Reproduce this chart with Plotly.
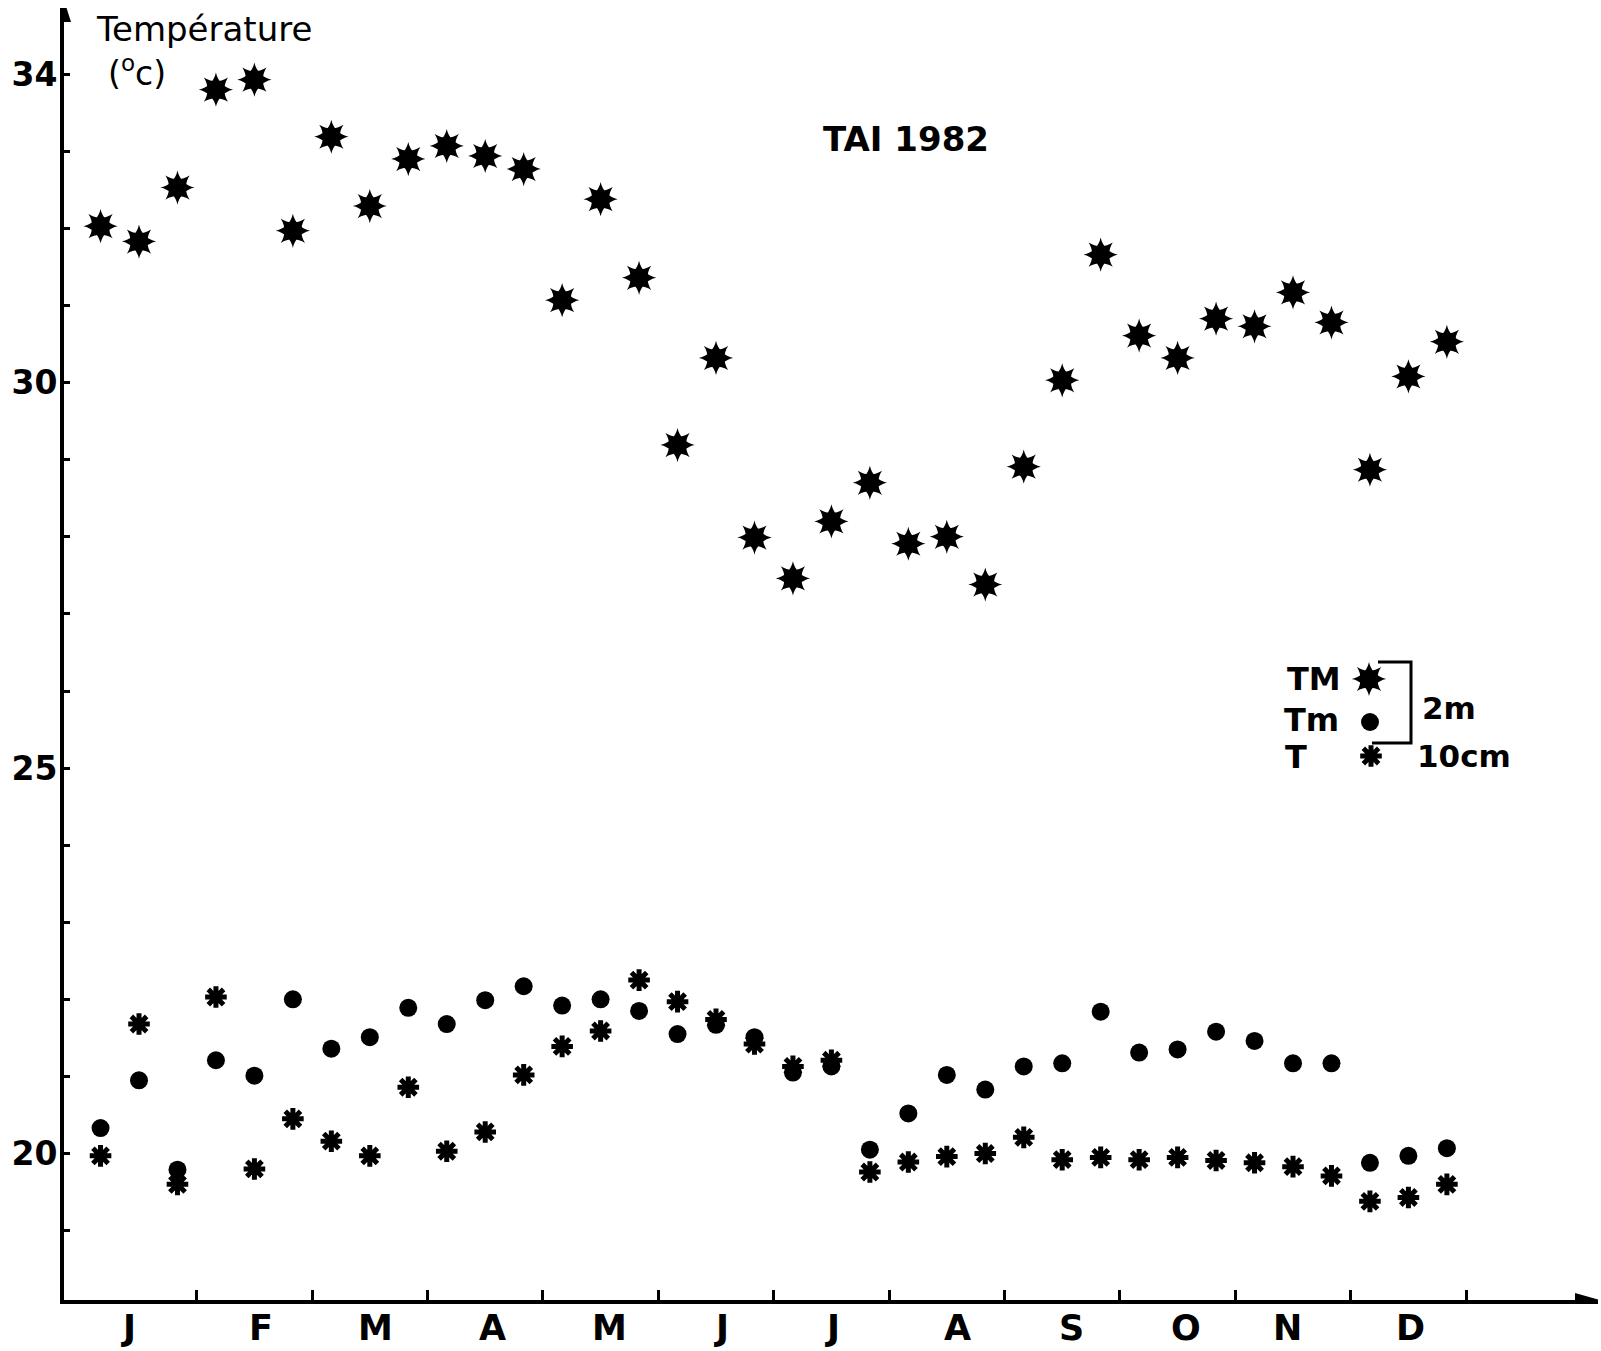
import plotly.graph_objects as go

# ---------------- data ----------------
months = ["J", "F", "M", "A", "M", "J", "J", "A", "S", "O", "N", "D"]
decade = list(range(1, 37))  # 10-day periods (3 per month)

# TM : maximum air temperature (2 m)
TM = [32.03, 31.83, 32.53, 33.80, 33.93, 31.97, 33.19, 32.29, 32.90, 33.07, 32.94, 32.77,
      31.07, 32.38, 31.36, 29.19, 30.32, 27.99, 27.46, 28.20, 28.70, 27.91, 28.00, 27.38,
      28.91, 30.03, 31.66, 30.61, 30.32, 30.83, 30.73, 31.17, 30.78, 28.87, 30.08, 30.53]
# Tm : minimum air temperature (2 m)
Tm = [20.33, 20.95, 19.79, 21.21, 21.01, 22.00, 21.36, 21.51, 21.89, 21.68, 21.99, 22.17,
      21.92, 22.00, 21.85, 21.55, 21.67, 21.51, 21.05, 21.13, 20.05, 20.52, 21.02, 20.83,
      21.13, 21.17, 21.84, 21.31, 21.35, 21.58, 21.46, 21.17, 21.17, 19.88, 19.97, 20.07]
# T : soil temperature (10 cm)
T10 = [19.97, 21.68, 19.60, 22.03, 19.80, 20.45, 20.16, 19.97, 20.86, 20.03, 20.28, 21.02,
       21.39, 21.59, 22.25, 21.97, 21.74, 21.42, 21.13, 21.21, 19.76, 19.89, 19.96, 20.00,
       20.21, 19.92, 19.95, 19.92, 19.95, 19.91, 19.88, 19.83, 19.71, 19.38, 19.43, 19.60]

y_ticks = list(range(19, 35))
y_labels = {20: "20", 25: "25", 30: "30", 34: "34"}
title_text = "TAI 1982"

# ---------------- layout geometry ----------------
W, H = 1601, 1351
L, R, T, B = 64, 3, 8, 51
PW, PH = W - L - R, H - T - B
FONT = "DejaVu Sans, Liberation Sans, Arial, sans-serif"

# hand-lettered month label positions (month units, as drawn on the original)
month_label_pos = [0.41, 1.56, 2.55, 3.56, 4.58, 5.55, 6.51, 7.59, 8.58, 9.57, 10.45, 11.52]

x = [(d - 0.5) / 3 for d in decade]  # month units

STAR = dict(size=22, color="black")
DOT = dict(symbol="circle", size=18, color="black", line=dict(width=0))
AST = dict(symbol="asterisk-open", size=18, color="black", line=dict(width=5, color="black"))
AST_C = dict(symbol="circle", size=10, color="black", line=dict(width=0))

fig = go.Figure()


def star_traces(xs, ys, **kw):
    for ang in (0, 45):
        fig.add_trace(go.Scatter(x=xs, y=ys, mode="markers", showlegend=False, hoverinfo="skip",
                                 marker=dict(symbol="star-square", angle=ang, line=dict(width=0), **STAR),
                                 **kw))
    fig.add_trace(go.Scatter(x=xs, y=ys, mode="markers", showlegend=False, hoverinfo="skip",
                             marker=dict(symbol="circle", size=15, color="black", line=dict(width=0)),
                             **kw))


def ast_traces(xs, ys, **kw):
    fig.add_trace(go.Scatter(x=xs, y=ys, mode="markers", showlegend=False, hoverinfo="skip",
                             marker=AST, **kw))
    fig.add_trace(go.Scatter(x=xs, y=ys, mode="markers", showlegend=False, hoverinfo="skip",
                             marker=AST_C, **kw))


# data marks
star_traces(x, TM)
fig.add_trace(go.Scatter(x=x, y=Tm, mode="markers", showlegend=False, marker=DOT))
ast_traces(x, T10)

# dummy trace for month-boundary tick axis
fig.add_trace(go.Scatter(x=[0], y=[25], xaxis="x2", mode="markers",
                         marker=dict(opacity=0), showlegend=False, hoverinfo="skip"))

# legend glyphs, placed on a pixel-coordinate overlay axis
leg = dict(xaxis="x3", yaxis="y3")
star_traces([1369], [679], **leg)
fig.add_trace(go.Scatter(x=[1370], y=[722], mode="markers", showlegend=False,
                         hoverinfo="skip", marker=DOT, **leg))
ast_traces([1371], [756], **leg)

xr = [-0.15, -0.15 + PW / 115.4]
yr = [18.10, 34.86]

fig.update_layout(
    width=W, height=H,
    margin=dict(l=L, r=R, t=T, b=B, pad=0, autoexpand=False),
    paper_bgcolor="white", plot_bgcolor="white",
    font=dict(family=FONT, color="black"),
    xaxis=dict(range=xr, showgrid=False, zeroline=False, showline=True, linecolor="black",
               linewidth=4, showticklabels=False, ticks="",
               automargin=False, fixedrange=True),
    xaxis2=dict(range=xr, overlaying="x", anchor="y", side="bottom", showgrid=False,
                zeroline=False, showline=False, tickvals=list(range(1, 13)),
                showticklabels=False, ticks="inside", ticklen=10, tickwidth=3,
                tickcolor="black", automargin=False),
    xaxis3=dict(range=[L, W - R], overlaying="x", anchor="y3", visible=False),
    yaxis=dict(range=yr, showgrid=False, zeroline=False, showline=True, linecolor="black",
               linewidth=4, tickvals=y_ticks, ticktext=[y_labels.get(v, "") for v in y_ticks],
               ticks="inside", ticklen=6, tickwidth=3, tickcolor="black",
               tickfont=dict(size=33, weight="bold", family=FONT), ticklabelstandoff=-4,
               automargin=False, fixedrange=True),
    yaxis3=dict(range=[T + PH, T], overlaying="y", anchor="x3", visible=False),
)


def px(xp, yp):
    return dict(xref="x3", yref="y3", x=xp, y=yp)


def paper_y(yp):
    return 1 - (yp - T) / PH


annos = [
    dict(text=title_text, font=dict(size=34, weight="bold"), **px(906, 139)),
    dict(text="Température", font=dict(size=34), xanchor="left", **px(94, 29)),
    dict(text="(<sup>o</sup>c)", font=dict(size=33), xanchor="left", **px(106, 71)),
    dict(text="TM", font=dict(size=32, weight="bold"), xanchor="right", **px(1343, 679)),
    dict(text="Tm", font=dict(size=32, weight="bold"), xanchor="right", **px(1341, 720)),
    dict(text="T", font=dict(size=32, weight="bold"), xanchor="right", **px(1309, 757)),
    dict(text="2m", font=dict(size=31, weight="bold"), xanchor="left", **px(1420, 708)),
    dict(text="10cm", font=dict(size=31, weight="bold"), xanchor="left", **px(1415, 756)),
]
# month letters under the axis
for mpos, mname in zip(month_label_pos, months):
    annos.append(dict(text=mname, font=dict(size=35, weight="bold"),
                      xref="x", yref="paper", x=mpos, y=paper_y(1328)))

for a in annos:
    a.setdefault("showarrow", False)
    a.setdefault("yanchor", "middle")
    fig.add_annotation(**a)

# bracket of the legend
fig.add_shape(type="path", xref="x3", yref="y3",
              path="M 1378 662 L 1411 662 L 1411 743 L 1372 743",
              line=dict(color="black", width=3))
# arrow heads on the axes
fig.add_shape(type="path", xref="x3", yref="y3",
              path="M 57 22 L 64 0 L 71 22 Z", fillcolor="black", line=dict(width=0))
fig.add_shape(type="path", xref="x3", yref="y3",
              path="M 1575 1293 L 1600 1300 L 1575 1307 Z", fillcolor="black", line=dict(width=0))

fig.write_html("out.html")
